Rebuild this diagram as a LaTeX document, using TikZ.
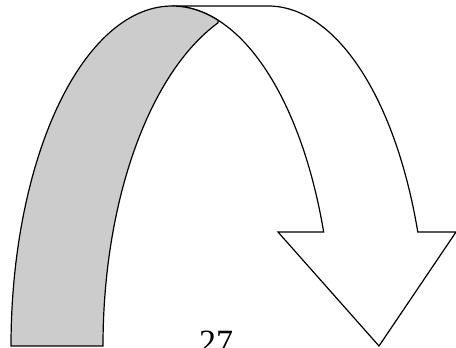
\documentclass[tikz,border=0pt]{standalone}
\usepackage{fontspec}
\setmainfont{Liberation Serif}
\begin{document}
\begin{tikzpicture}[x=1pt,y=1pt,
  band/.style={draw=black,line width=1.2pt,line join=miter},
  backband/.style={band,fill=bandgray},
  frontband/.style={band,fill=white}]
\definecolor{bandgray}{HTML}{CCCCCC}
\useasboundingbox (0,0) rectangle (456,348);
\clip (0,0) rectangle (456,348);
% front (white) part with arrow head
\coordinate (topL) at (172,342);
\coordinate (topR) at (268,342);
\coordinate (wingR) at (456,116);
\coordinate (tip) at (379,2);
\coordinate (wingL) at (278,116);
\coordinate (innerEnd) at ({172+161*cos(19.6)},{2+340*sin(19.6)});
\path[frontband] (topL) -- (topR)
  arc[start angle=90,end angle=19.6,x radius=159pt,y radius=340pt]
  -- (wingR) -- (tip) -- (wingL) -- (innerEnd)
  arc[start angle=19.6,end angle=90,x radius=161pt,y radius=340pt]
  -- cycle;
% back (grey) part
\coordinate (footL) at (11,2);
\coordinate (meetB) at ({280+177*cos(110.5)},{2+345*sin(110.5)});
\path[backband] (footL)
  arc[start angle=180,end angle=73.4,x radius=161pt,y radius=340pt]
  -- (meetB)
  arc[start angle=110.5,end angle=180,x radius=177pt,y radius=345pt]
  -- cycle;
% page number
\node[anchor=base west,inner sep=0pt,font=\fontsize{34}{40}\selectfont] (pnum) at (199,-6) {27};
\end{tikzpicture}
\end{document}
